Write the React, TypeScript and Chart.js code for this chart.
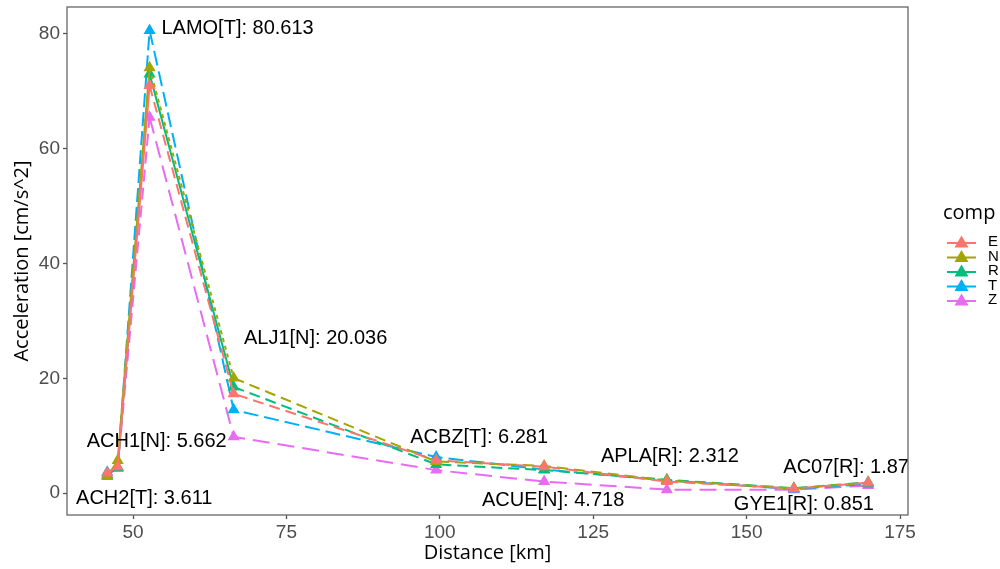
import React, { useEffect, useRef } from "react";
import { Chart, registerables } from "chart.js";

Chart.register(...registerables);

// ---- data ----
const stations = ["ACH2", "ACH1", "LAMO", "ALJ1", "ACBZ", "ACUE", "APLA", "GYE1", "AC07"];
const distances = [45.8, 47.5, 52.7, 66.4, 99.4, 117.0, 137.0, 157.7, 169.8];
const comps = ["E", "N", "R", "T", "Z"];
const seriesE = [3.5, 4.6, 71.0, 17.3, 5.7, 4.6, 2.0, 0.8, 1.8];
const seriesN = [2.9, 5.662, 74.1, 20.036, 5.5, 4.718, 2.2, 0.8, 1.8];
const seriesR = [3.1, 4.5, 73.0, 18.5, 5.0, 4.0, 2.312, 0.851, 1.87];
const seriesT = [3.611, 4.5, 80.613, 14.5, 6.281, 4.1, 2.2, 0.7, 1.6];
const seriesZ = [3.2, 4.3, 65.5, 9.8, 4.0, 2.0, 0.6, 0.6, 1.3];
const labelComp = ["T", "N", "T", "N", "T", "N", "R", "R", "R"];
const labelValue = ["3.611", "5.662", "80.613", "20.036", "6.281", "4.718", "2.312", "0.851", "1.87"];
const xTicks = [50, 75, 100, 125, 150, 175];
const yTicks = [0, 20, 40, 60, 80];

// ---- styles ----
const colors = ["#F8766D", "#A3A500", "#00BF7D", "#00B0F6", "#E76BF3"];
const segDash: number[][][] = [
  [[], [], [11, 6], [11, 6], [11, 6], [11, 6], [11, 6], [11, 6]],
  [[], [], [4, 4], [11, 6], [11, 6], [11, 6], [11, 6], [11, 6]],
  [[], [], [], [11, 6], [11, 6], [11, 6], [11, 6], [11, 6]],
  [[], [14, 5], [15, 6], [15, 6], [15, 6], [15, 6], [15, 6], [15, 6]],
  [[], [12, 6], [17, 8], [17, 8], [17, 8], [17, 8], [17, 8], [17, 8]],
];
const labelOffsets: [number, number][] = [
  [37, 26], [39, -19], [88, -2], [82, -40], [43, -20], [9, 34], [3, -23], [10, 16], [-22, -15],
];

const allSeries = [seriesE, seriesN, seriesR, seriesT, seriesZ];
const SANS = '"Liberation Sans", Arial, sans-serif';
const TITLE = '"Open Sans", sans-serif';

const frame = {
  id: "frame",
  afterDraw(chart: any) {
    const { ctx, chartArea: a } = chart;
    ctx.save();
    ctx.strokeStyle = "#666666";
    ctx.lineWidth = 1.3;
    ctx.strokeRect(a.left, a.top, a.right - a.left, a.bottom - a.top);
    ctx.restore();
  },
};

const labelsPlugin = {
  id: "labelsPlugin",
  afterDatasetsDraw(chart: any) {
    const { ctx, scales } = chart;
    ctx.save();
    ctx.font = `20px ${SANS}`;
    ctx.fillStyle = "#000";
    ctx.textAlign = "center";
    ctx.textBaseline = "middle";
    stations.forEach((s, i) => {
      const ci = comps.indexOf(labelComp[i]);
      const v = allSeries[ci][i];
      const px = scales.x.getPixelForValue(distances[i]);
      const py = scales.y.getPixelForValue(v);
      const [dx, dy] = labelOffsets[i];
      ctx.fillText(`${s}[${labelComp[i]}]: ${labelValue[i]}`, px + dx, py + dy);
    });
    ctx.restore();
  },
};

const legendPlugin = {
  id: "legendPlugin",
  afterDraw(chart: any) {
    const { ctx } = chart;
    ctx.save();
    ctx.font = `20px ${TITLE}`;
    ctx.fillStyle = "#000";
    ctx.textBaseline = "middle";
    ctx.textAlign = "left";
    ctx.fillText("comp", 943, 213);
    comps.forEach((c, i) => {
      const y = 242 + i * 14.5;
      ctx.strokeStyle = colors[i];
      ctx.lineWidth = 2;
      ctx.beginPath();
      ctx.moveTo(947, y + 1);
      ctx.lineTo(976, y + 1);
      ctx.stroke();
      ctx.fillStyle = colors[i];
      ctx.beginPath();
      ctx.moveTo(961.5, y - 6.5);
      ctx.lineTo(968.5, y + 5.5);
      ctx.lineTo(954.5, y + 5.5);
      ctx.closePath();
      ctx.fill();
      ctx.fillStyle = "#000";
      ctx.font = `15px ${SANS}`;
      ctx.fillText(c, 988, y);
    });
    ctx.restore();
  },
};

export default function App() {
  const ref = useRef<HTMLCanvasElement>(null);
  useEffect(() => {
    document.body.style.margin = "0";
    const canvas = ref.current!;
    const datasets = comps.map((c, k) => ({
      label: c,
      data: distances.map((d, i) => ({ x: d, y: allSeries[k][i] })),
      borderColor: colors[k],
      backgroundColor: colors[k],
      borderWidth: 2,
      pointStyle: "triangle",
      pointRadius: 7,
      pointBorderWidth: 0,
      pointBackgroundColor: colors[k],
      tension: 0,
      segment: {
        borderDash: (ctx: any) => segDash[k][ctx.p0DataIndex] || [],
      },
    }));
    const chart = new Chart(canvas, {
      type: "line",
      data: { datasets },
      plugins: [frame, labelsPlugin, legendPlugin],
      options: {
        animation: false,
        responsive: false,
        layout: { padding: { top: 5, right: 92, left: 0, bottom: 0 } },
        plugins: { legend: { display: false }, tooltip: { enabled: false } },
        scales: {
          x: {
            type: "linear",
            min: 39.24,
            max: 176.3,
            afterBuildTicks: (s: any) => {
              s.ticks = xTicks.map((v) => ({ value: v }));
            },
            afterFit: (s: any) => {
              s.height = 54;
              s.paddingLeft = 0;
              s.paddingRight = 0;
            },
            grid: { display: true, drawOnChartArea: false, drawTicks: true, tickLength: 4, tickColor: "#555", tickWidth: 1.3 },
            border: { display: false },
            ticks: {
              color: "#4d4d4d",
              font: { family: SANS, size: 19 },
              padding: 2,
              maxRotation: 0,
            },
            title: {
              display: true,
              text: "Distance [km]",
              color: "#000",
              font: { family: TITLE, size: 20 },
              padding: { top: 0, bottom: 4 },
            },
          },
          y: {
            type: "linear",
            min: -3.82,
            max: 84.69,
            afterBuildTicks: (s: any) => {
              s.ticks = yTicks.map((v) => ({ value: v }));
            },
            afterFit: (s: any) => {
              s.width = 67;
              s.paddingTop = 0;
              s.paddingBottom = 0;
            },
            grid: { display: true, drawOnChartArea: false, drawTicks: true, tickLength: 4, tickColor: "#555", tickWidth: 1.3 },
            border: { display: false },
            ticks: {
              color: "#4d4d4d",
              font: { family: SANS, size: 19 },
              padding: 3,
            },
            title: {
              display: true,
              text: "Acceleration [cm/s^2]",
              color: "#000",
              font: { family: TITLE, size: 20 },
              padding: { top: 10, bottom: 0 },
            },
          },
        },
      },
    } as any);
    return () => chart.destroy();
  }, []);
  return (
    <div style={{ width: 1000, height: 569, background: "#fff" }}>
      <canvas ref={ref} width={1000} height={569} />
    </div>
  );
}
